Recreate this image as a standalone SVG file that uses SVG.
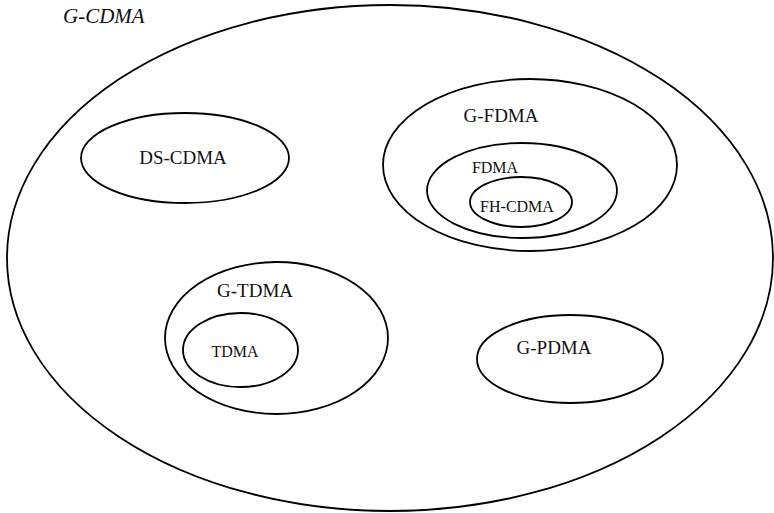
<svg xmlns="http://www.w3.org/2000/svg" width="774" height="513" viewBox="0 0 774 513">
  <style>
    .set { fill: none; stroke: #000; stroke-width: 1.8; }
    .lbl { font-family: "Liberation Serif", "Times New Roman", serif; fill: #111; text-anchor: middle; }
    .big { font-size: 19px; }
    .small { font-size: 16px; }
    .title { font-size: 21px; font-style: italic; text-anchor: start; }
  </style>
  <rect width="774" height="513" fill="#fff"/>

  <g id="g-cdma">
    <ellipse class="set" cx="390" cy="258" rx="383" ry="253"/>
    <text class="lbl title" x="63" y="23">G-CDMA</text>
  </g>

  <g id="ds-cdma">
    <ellipse class="set" cx="185" cy="158" rx="104" ry="45"/>
    <text class="lbl big" x="183" y="164">DS-CDMA</text>
  </g>

  <g id="g-fdma">
    <ellipse class="set" cx="530" cy="165" rx="147" ry="86"/>
    <text class="lbl big" x="501" y="122">G-FDMA</text>
  </g>

  <g id="fdma">
    <ellipse class="set" cx="522" cy="190.5" rx="95" ry="47.5"/>
    <text class="lbl small" x="495" y="173">FDMA</text>
  </g>

  <g id="fh-cdma">
    <ellipse class="set" cx="521" cy="202" rx="51" ry="25"/>
    <text class="lbl small" x="517" y="212">FH-CDMA</text>
  </g>

  <g id="g-tdma">
    <ellipse class="set" cx="276.5" cy="338" rx="111.5" ry="76"/>
    <text class="lbl big" x="255" y="297">G-TDMA</text>
  </g>

  <g id="tdma">
    <ellipse class="set" cx="240.5" cy="350" rx="57.5" ry="37"/>
    <text class="lbl small" x="235" y="357">TDMA</text>
  </g>

  <g id="g-pdma">
    <ellipse class="set" cx="570" cy="359" rx="93" ry="44"/>
    <text class="lbl big" x="554" y="354">G-PDMA</text>
  </g>

  <g id="connectors"/>
</svg>
